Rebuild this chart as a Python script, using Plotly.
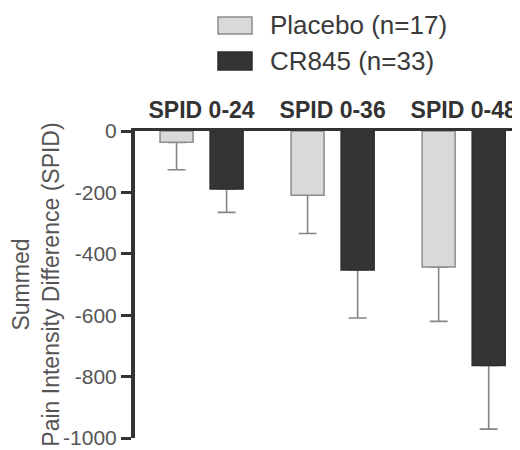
import plotly.graph_objects as go

categories = ["SPID 0-24", "SPID 0-36", "SPID 0-48"]
series_names = ["Placebo (n=17)", "CR845 (n=33)"]
placebo_mean = [-37, -209, -443]
placebo_err = [89, 125, 177]
cr845_mean = [-189, -453, -764]
cr845_err = [76, 156, 207]
y_ticks = [0, -200, -400, -600, -800, -1000]

x_idx = list(range(len(categories)))
bar_w = 0.252
offsets = [-0.317, 0.065]
fills = ["#d9d9d9", "#343434"]
lines = ["#8c8c8c", "#2c2c2c"]
means = [placebo_mean, cr845_mean]
errs = [placebo_err, cr845_err]

fig = go.Figure()
# error bars first (drawn beneath the bars so the hat at bar end is hidden)
for i in range(2):
    fig.add_trace(go.Bar(
        x=x_idx, y=means[i], width=bar_w, offset=offsets[i],
        marker=dict(color="rgba(0,0,0,0)", line=dict(width=0)),
        error_y=dict(type="data", symmetric=False, array=[0] * 3, arrayminus=errs[i],
                     color="#858585", thickness=1.6, width=9),
        showlegend=False, hoverinfo="skip"))
for i in range(2):
    fig.add_trace(go.Bar(
        x=x_idx, y=means[i], width=bar_w, offset=offsets[i], name=series_names[i],
        marker=dict(color=fills[i], line=dict(color=lines[i], width=1.5)),
        showlegend=False))

# page body has an 8px default margin; design the figure in screen pixels minus 8
OFF = 8
FW, FH = 520 - OFF, 450 - OFF
L, T, W, H = 135 - OFF, 131 - OFF, 385, 307


def px(xp):
    return (xp - OFF - L) / W


def py(yp):
    return (T + H - (yp - OFF)) / H


legend_rows = [(17, 34, 25), (52, 70, 61)]
for i, (y0, y1, yc) in enumerate(legend_rows):
    fig.add_shape(type="rect", xref="paper", yref="paper",
                  x0=px(218), x1=px(252), y0=py(y1), y1=py(y0),
                  fillcolor=fills[i], line=dict(color=lines[i], width=1.5))
    fig.add_annotation(xref="paper", yref="paper", x=px(268), y=py(yc),
                       text=series_names[i], showarrow=False, xanchor="left", yanchor="middle",
                       font=dict(family="Liberation Sans, Arial, sans-serif", size=26, color="#3a3a3a"))

fig.update_layout(
    width=FW, height=FH,
    margin=dict(l=L, r=FW - L - W, t=T, b=FH - T - H),
    plot_bgcolor="white", paper_bgcolor="white",
    barmode="overlay",
    font=dict(family="Liberation Sans, Arial, sans-serif", color="#444444"),
    xaxis=dict(
        range=[-0.508, 2.43], side="top", tickmode="array", tickvals=x_idx,
        ticktext=["<b>%s</b>" % c for c in categories], automargin=False,
        ticklabeloverflow="allow",
        tickfont=dict(size=23, color="#333333"), ticks="", showgrid=False, zeroline=False,
        showline=True, linecolor="#333333", linewidth=3, ticklabelstandoff=1),
    yaxis=dict(
        range=[-1000, 0], tickmode="array", tickvals=y_ticks, automargin=False,
        ticktext=[str(v) for v in y_ticks], ticklabeloverflow="allow",
        tickfont=dict(size=21, color="#555555"), ticks="outside", ticklen=10, tickwidth=3,
        tickcolor="#333333", showline=True, linecolor="#333333", linewidth=4,
        showgrid=False, zeroline=False,
        title=dict(text="Summed<br>Pain Intensity Difference (SPID)",
                   font=dict(size=23, color="#555555"), standoff=19)),
)

fig.write_html("out.html")
